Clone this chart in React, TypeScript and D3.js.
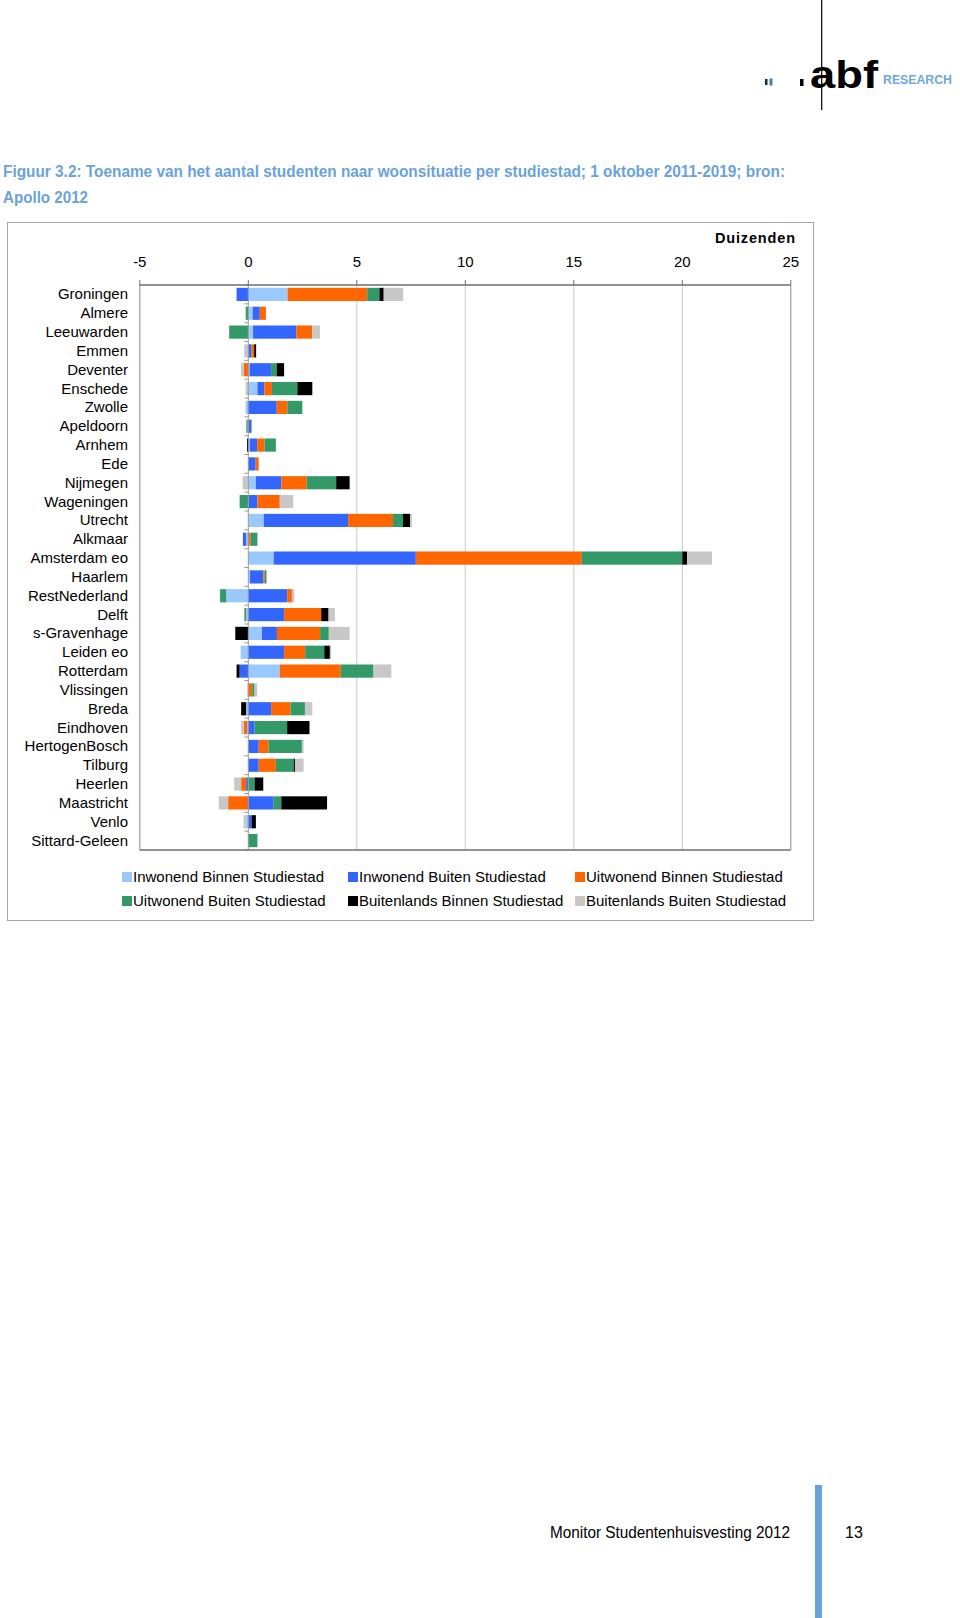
import React from "react";
import * as d3 from "d3";

const cities = [
  "Groningen", "Almere", "Leeuwarden", "Emmen", "Deventer", "Enschede", "Zwolle",
  "Apeldoorn", "Arnhem", "Ede", "Nijmegen", "Wageningen", "Utrecht", "Alkmaar",
  "Amsterdam eo", "Haarlem", "RestNederland", "Delft", "s-Gravenhage", "Leiden eo",
  "Rotterdam", "Vlissingen", "Breda", "Eindhoven", "HertogenBosch", "Tilburg",
  "Heerlen", "Maastricht", "Venlo", "Sittard-Geleen",
];

const seriesNames = [
  "Inwonend Binnen Studiestad",
  "Inwonend Buiten Studiestad",
  "Uitwonend Binnen Studiestad",
  "Uitwonend Buiten Studiestad",
  "Buitenlands Binnen Studiestad",
  "Buitenlands Buiten Studiestad",
];
const seriesColors = ["#99c9ff", "#3366ff", "#ff6600", "#339966", "#000000", "#c8c8c8"];

const inwBinnen = [1.81, 0.2, 0.22, 0, 0.06, 0.42, -0.12, 0, 0.06, 0, 0.35, 0, 0.71, -0.1, 1.17, 0.08, -1.02, -0.1, 0.63, -0.35, 1.45, -0.04, -0.1, -0.06, 0, 0, 0, 0, -0.1, 0];
const inwBuiten = [-0.54, 0.33, 1.99, 0.15, 0.99, 0.32, 1.31, 0.15, 0.35, 0.34, 1.17, 0.42, 3.89, -0.15, 6.55, 0.62, 1.79, 1.65, 0.69, 1.65, -0.4, 0, 1.05, 0.29, 0.48, 0.48, -0.1, 1.17, 0.15, 0];
const uitBinnen = [3.67, 0.28, 0.74, 0.12, -0.2, 0.35, 0.49, -0.03, 0.34, 0.14, 1.17, 1.03, 2.07, 0.11, 7.65, 0.06, 0.22, 1.71, 1.99, 0.97, 2.81, 0.18, 0.9, -0.15, 0.45, 0.79, -0.23, -0.93, 0, 0];
const uitBuiten = [0.56, -0.12, -0.88, 0, 0.26, 1.17, 0.69, -0.06, 0.52, 0, 1.36, -0.4, 0.46, 0.31, 4.63, 0.08, -0.28, -0.08, 0.4, 0.88, 1.51, 0.11, 0.66, 1.5, 1.54, 0.82, 0.29, 0.35, 0, 0.42];
const bulBinnen = [0.2, 0, 0, 0.09, 0.34, 0.69, 0, 0, -0.06, 0, 0.62, 0, 0.33, 0, 0.22, 0, 0, 0.34, -0.6, 0.26, -0.14, 0, -0.23, 1.03, 0, 0.06, 0.4, 2.11, 0.2, 0];
const bulBuiten = [0.9, 0, 0.35, -0.19, -0.14, -0.12, 0, 0, 0, 0, -0.26, 0.62, 0.08, 0, 1.15, 0, 0.11, 0.29, 0.96, 0.06, 0.82, 0.12, 0.34, -0.12, 0.08, 0.4, -0.32, -0.43, -0.12, 0];

const xTicks = [-5, 0, 5, 10, 15, 20, 25];
const gridValues = [5, 10, 15, 20];

const FONT = "'Liberation Sans', Arial, Helvetica, sans-serif";

export default function App() {
  const seriesValues = [inwBinnen, inwBuiten, uitBinnen, uitBuiten, bulBinnen, bulBuiten];
  const rows = cities.map((c, i) => {
    const r: any = { city: c };
    seriesNames.forEach((s, j) => (r[s] = seriesValues[j][i]));
    return r;
  });
  const stacked = d3
    .stack()
    .keys(seriesNames)
    .order(d3.stackOrderNone)
    .offset(d3.stackOffsetDiverging)(rows as any);

  const plotTop = 285;
  const plotBottom = 850;
  const x = d3.scaleLinear().domain([-5, 25]).range([139.8, 790.8]);
  const y = d3
    .scaleBand<string>()
    .domain(cities)
    .range([plotTop, plotBottom])
    .paddingInner(0.3)
    .paddingOuter(0.15);
  const step = (plotBottom - plotTop) / cities.length;
  const x0 = x(0);

  const legendPos = [
    [122, 877], [348, 877], [575, 877],
    [122, 901], [348, 901], [575, 901],
  ];

  return (
    <svg
      width={960}
      height={1618}
      style={{ position: "absolute", left: 0, top: 0, background: "#fff" }}
      fontFamily={FONT}
    >
      {/* logo */}
      <line x1={821.7} y1={0} x2={821.7} y2={110} stroke="#000" strokeWidth={1.2} />
      <rect x={765} y={79} width={2.5} height={6} fill="#1a2a40" />
      <rect x={769.5} y={78.5} width={3} height={7} fill="#4a7fb0" />
      <rect x={800} y={79} width={3.5} height={7} fill="#000" />
      <text x={810} y={88} fontSize={39} fontWeight="bold" textLength={68} lengthAdjust="spacingAndGlyphs" fill="#000">
        abf
      </text>
      <text x={883} y={84} fontSize={12} fontWeight="bold" textLength={69} lengthAdjust="spacingAndGlyphs" fill="#6fa8dc">
        RESEARCH
      </text>

      {/* title */}
      <text x={3} y={177} fontSize={16} fontWeight="bold" fill="#6aa3d8" textLength={782} lengthAdjust="spacingAndGlyphs">
        Figuur 3.2: Toename van het aantal studenten naar woonsituatie per studiestad; 1 oktober 2011-2019; bron:
      </text>
      <text x={3} y={203} fontSize={16} fontWeight="bold" fill="#6aa3d8" textLength={85} lengthAdjust="spacingAndGlyphs">
        Apollo 2012
      </text>

      {/* frame */}
      <rect x={7.5} y={222.5} width={806} height={698} fill="none" stroke="#a6a6a6" strokeWidth={1} />

      <text x={795} y={243} fontSize={14.5} fontWeight="bold" textAnchor="end" fill="#000" textLength={80} lengthAdjust="spacing">
        Duizenden
      </text>

      {/* gridlines */}
      {gridValues.map((v) => (
        <line key={"g" + v} x1={x(v)} x2={x(v)} y1={plotTop} y2={plotBottom} stroke="#c8c8c8" strokeWidth={1} />
      ))}

      {/* bars */}
      {stacked.map((s, si) => (
        <g key={s.key} fill={seriesColors[si]}>
          {s.map((d: any, i: number) => {
            const a = x(d[0]);
            const b = x(d[1]);
            const w = Math.abs(b - a);
            if (w < 0.01) return null;
            return (
              <rect key={i} x={Math.min(a, b)} y={y(cities[i])} width={w} height={y.bandwidth()} />
            );
          })}
        </g>
      ))}

      {/* zero axis with category ticks */}
      <line x1={x0} x2={x0} y1={plotTop} y2={plotBottom} stroke="#9a9a9a" strokeWidth={1} />
      {d3.range(cities.length + 1).map((i) => (
        <line key={"ct" + i} x1={x0 - 4} x2={x0} y1={plotTop + i * step} y2={plotTop + i * step} stroke="#9a9a9a" strokeWidth={1} />
      ))}

      {/* plot box */}
      <line x1={x(-5)} x2={x(25)} y1={plotTop} y2={plotTop} stroke="#6e6e6e" strokeWidth={1.5} />
      <line x1={x(-5)} x2={x(25)} y1={plotBottom} y2={plotBottom} stroke="#6e6e6e" strokeWidth={1.5} />
      <line x1={x(-5)} x2={x(-5)} y1={plotTop} y2={plotBottom} stroke="#8a8a8a" strokeWidth={1} />
      <line x1={x(25)} x2={x(25)} y1={plotTop} y2={plotBottom} stroke="#8a8a8a" strokeWidth={1} />

      {/* top ticks and labels */}
      {xTicks.map((v) => (
        <g key={"t" + v}>
          <line x1={x(v)} x2={x(v)} y1={plotTop - 5} y2={plotTop} stroke="#6e6e6e" strokeWidth={1} />
          <text x={x(v)} y={266.5} fontSize={15} textAnchor="middle" fill="#000">
            {v}
          </text>
        </g>
      ))}

      {/* category labels */}
      {cities.map((c) => (
        <text key={c} x={128} y={(y(c) as number) + y.bandwidth() / 2 + 5} fontSize={15} textAnchor="end" fill="#000">
          {c}
        </text>
      ))}

      {/* legend */}
      {seriesNames.map((n, i) => (
        <g key={n}>
          <rect x={legendPos[i][0]} y={legendPos[i][1] - 5} width={10} height={10} fill={seriesColors[i]} />
          <text x={legendPos[i][0] + 11} y={legendPos[i][1] + 5} fontSize={15} fill="#000">
            {n}
          </text>
        </g>
      ))}

      {/* footer */}
      <text x={550} y={1538} fontSize={16} fill="#000" textLength={240} lengthAdjust="spacingAndGlyphs">
        Monitor Studentenhuisvesting 2012
      </text>
      <text x={845} y={1538} fontSize={16} fill="#000">
        13
      </text>
      <rect x={815} y={1485} width={7} height={133} fill="#6aa2d6" />
    </svg>
  );
}
